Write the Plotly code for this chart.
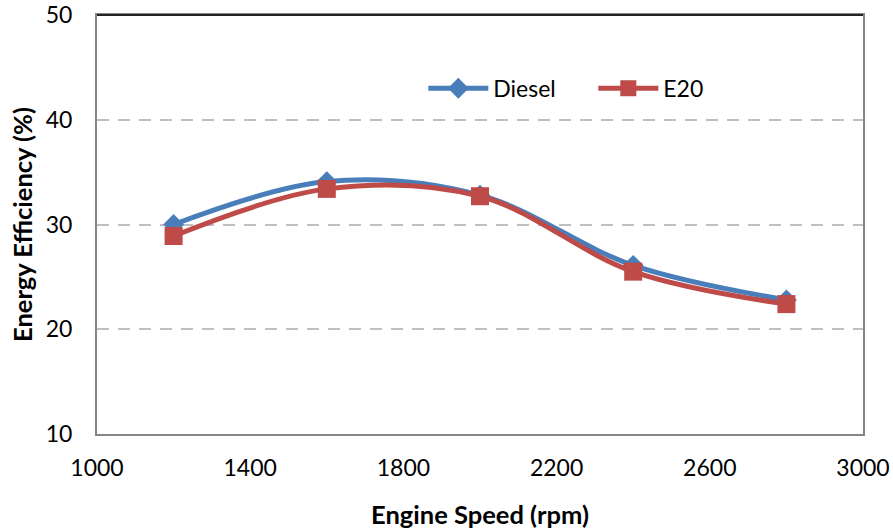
import plotly.graph_objects as go

speed = [1200, 1600, 2000, 2400, 2800]
diesel = [30.0, 34.1, 32.8, 26.1, 22.8]
e20 = [28.9, 33.4, 32.7, 25.5, 22.4]

FONT = "Lato"

fig = go.Figure()
fig.add_trace(go.Scatter(
    x=speed, y=diesel, name="Diesel", mode="lines+markers",
    line=dict(color="#4A7EBB", width=5, shape="spline", smoothing=1),
    marker=dict(symbol="diamond", size=16, color="#4A7EBB"),
))
fig.add_trace(go.Scatter(
    x=speed, y=e20, name="E20", mode="lines+markers",
    line=dict(color="#BE4B48", width=5, shape="spline", smoothing=1),
    marker=dict(symbol="square", size=18, color="#BE4B48"),
))

fig.update_layout(
    width=893, height=529,
    margin=dict(l=97, r=30, t=15, b=95, autoexpand=False),
    paper_bgcolor="white", plot_bgcolor="white",
    font=dict(family=FONT, size=23, color="black"),
    showlegend=True,
    legend=dict(orientation="h", x=0.426, y=0.825, xanchor="left", yanchor="middle",
                font=dict(size=23), bgcolor="rgba(0,0,0,0)", itemwidth=60,
                entrywidth=95),
)
fig.update_xaxes(
    range=[1000, 3000], tickvals=[1000, 1400, 1800, 2200, 2600, 3000],
    showgrid=False, zeroline=False, automargin=False,
    showline=True, linecolor="#868686", linewidth=2, mirror=True,
    ticks="", ticklabelstandoff=12, tickfont=dict(size=23),
    ticklabeloverflow="allow",
    title=dict(text="<b>Engine Speed (rpm)</b>", standoff=27, font=dict(size=25.5)),
)
fig.update_yaxes(
    range=[10, 50], tickvals=[10, 20, 30, 40, 50],
    showgrid=True, gridcolor="#BFBFBF", gridwidth=2, griddash="12px,9px",
    zeroline=False, automargin=False,
    showline=True, linecolor="#868686", linewidth=2, mirror=True,
    ticks="", ticklabelstandoff=18, tickfont=dict(size=23),
    ticklabeloverflow="allow",
    title=dict(text="<b>Energy Efficiency (%)</b>", standoff=6, font=dict(size=25.5)),
)
# darker top border of the plot area
fig.add_shape(type="line", xref="paper", yref="paper", x0=0, x1=1, y0=1, y1=1,
              line=dict(color="#222222", width=2))

# drop the default page margin so the figure fills the window exactly
fig.write_html("out.html", config={"displayModeBar": False},
               post_script="document.body.style.margin='0';document.body.style.overflow='hidden';")
